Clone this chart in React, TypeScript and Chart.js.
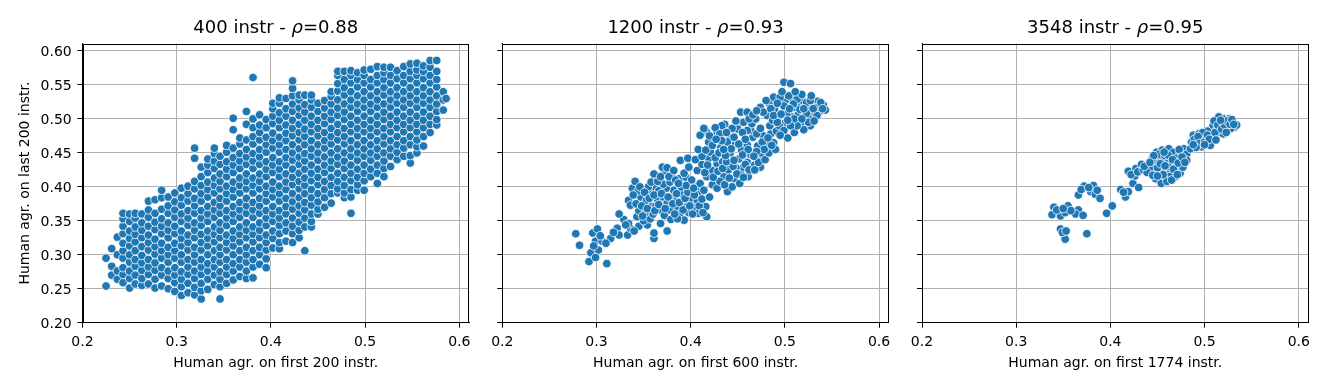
import React, { useEffect, useRef } from "react";
import { Chart, registerables } from "chart.js";
Chart.register(...registerables);

// ---------- data ----------
const panelNames = ["400 instr", "1200 instr", "3548 instr"];
const rhoValues = ["0.88", "0.93", "0.95"];
const xAxisLabels = [
  "Human agr. on first 200 instr.",
  "Human agr. on first 600 instr.",
  "Human agr. on first 1774 instr.",
];
const yAxisLabel = "Human agr. on last 200 instr.";
const xTickValues = [0.2, 0.3, 0.4, 0.5, 0.6];
const xTickLabels = ["0.2", "0.3", "0.4", "0.5", "0.6"];
const yTickValues = [0.2, 0.25, 0.3, 0.35, 0.4, 0.45, 0.5, 0.55, 0.6];
const yTickLabels = ["0.20", "0.25", "0.30", "0.35", "0.40", "0.45", "0.50", "0.55", "0.60"];

// panel 1: columns [x, y1, y2, ...] (dense cloud read column by column)
const p1Columns: number[][] = [
  [0.225, 0.254, 0.295],
  [0.231, 0.270, 0.283, 0.309],
  [0.237, 0.264, 0.276, 0.300, 0.326],
  [0.243, 0.259, 0.271, 0.281, 0.295, 0.306, 0.317, 0.331, 0.342, 0.353, 0.361],
  [0.250, 0.251, 0.265, 0.276, 0.289, 0.300, 0.313, 0.324, 0.335, 0.349, 0.360],
  [0.256, 0.257, 0.270, 0.283, 0.293, 0.306, 0.319, 0.330, 0.341, 0.354, 0.361],
  [0.263, 0.255, 0.265, 0.277, 0.288, 0.299, 0.312, 0.325, 0.336, 0.347, 0.360],
  [0.270, 0.257, 0.271, 0.282, 0.293, 0.307, 0.318, 0.329, 0.342, 0.355, 0.366, 0.379],
  [0.277, 0.251, 0.264, 0.277, 0.288, 0.301, 0.312, 0.323, 0.337, 0.348, 0.361, 0.381],
  [0.284, 0.254, 0.270, 0.281, 0.295, 0.306, 0.317, 0.331, 0.342, 0.353, 0.367, 0.384, 0.395],
  [0.291, 0.250, 0.265, 0.276, 0.289, 0.300, 0.311, 0.325, 0.336, 0.347, 0.361, 0.372, 0.385],
  [0.298, 0.246, 0.259, 0.270, 0.281, 0.295, 0.306, 0.317, 0.331, 0.342, 0.355, 0.366, 0.378, 0.391],
  [0.305, 0.240, 0.253, 0.264, 0.275, 0.289, 0.300, 0.313, 0.324, 0.335, 0.349, 0.360, 0.373, 0.384, 0.398],
  [0.312, 0.244, 0.258, 0.271, 0.282, 0.293, 0.307, 0.318, 0.329, 0.343, 0.354, 0.365, 0.379, 0.390, 0.401],
  [0.319, 0.241, 0.252, 0.265, 0.276, 0.289, 0.300, 0.311, 0.325, 0.336, 0.347, 0.361, 0.372, 0.383, 0.397, 0.408, 0.442, 0.457],
  [0.326, 0.235, 0.247, 0.258, 0.271, 0.282, 0.293, 0.307, 0.318, 0.330, 0.343, 0.354, 0.365, 0.379, 0.390, 0.402, 0.415, 0.429],
  [0.333, 0.249, 0.264, 0.276, 0.287, 0.300, 0.313, 0.324, 0.335, 0.349, 0.360, 0.371, 0.385, 0.396, 0.407, 0.421, 0.432, 0.441],
  [0.340, 0.256, 0.270, 0.282, 0.293, 0.306, 0.319, 0.330, 0.341, 0.355, 0.366, 0.377, 0.391, 0.402, 0.413, 0.427, 0.438, 0.449, 0.457],
  [0.346, 0.235, 0.253, 0.264, 0.275, 0.289, 0.300, 0.311, 0.325, 0.336, 0.347, 0.361, 0.372, 0.383, 0.397, 0.408, 0.419, 0.433, 0.445],
  [0.353, 0.258, 0.271, 0.282, 0.293, 0.307, 0.318, 0.329, 0.343, 0.354, 0.365, 0.379, 0.390, 0.401, 0.415, 0.426, 0.437, 0.451, 0.461],
  [0.360, 0.263, 0.276, 0.287, 0.300, 0.313, 0.324, 0.335, 0.349, 0.360, 0.371, 0.385, 0.396, 0.407, 0.421, 0.432, 0.443, 0.457, 0.484, 0.501],
  [0.367, 0.268, 0.282, 0.293, 0.306, 0.319, 0.330, 0.341, 0.355, 0.366, 0.377, 0.391, 0.402, 0.413, 0.427, 0.438, 0.449, 0.463, 0.472],
  [0.374, 0.265, 0.276, 0.289, 0.300, 0.311, 0.325, 0.336, 0.347, 0.361, 0.372, 0.383, 0.397, 0.408, 0.419, 0.433, 0.444, 0.455, 0.469, 0.492, 0.511],
  [0.381, 0.266, 0.282, 0.293, 0.306, 0.319, 0.330, 0.341, 0.355, 0.366, 0.377, 0.391, 0.402, 0.413, 0.427, 0.438, 0.449, 0.463, 0.474, 0.487, 0.500, 0.561],
  [0.388, 0.286, 0.300, 0.311, 0.325, 0.336, 0.347, 0.361, 0.372, 0.383, 0.397, 0.408, 0.419, 0.433, 0.444, 0.455, 0.469, 0.480, 0.491, 0.506],
  [0.395, 0.281, 0.294, 0.307, 0.318, 0.329, 0.343, 0.354, 0.365, 0.379, 0.390, 0.401, 0.415, 0.426, 0.437, 0.451, 0.462, 0.473, 0.487, 0.499],
  [0.402, 0.310, 0.324, 0.335, 0.349, 0.360, 0.371, 0.385, 0.396, 0.407, 0.421, 0.432, 0.443, 0.457, 0.468, 0.479, 0.493, 0.504, 0.515, 0.523],
  [0.409, 0.309, 0.318, 0.331, 0.343, 0.354, 0.365, 0.379, 0.390, 0.401, 0.415, 0.426, 0.437, 0.451, 0.462, 0.473, 0.487, 0.498, 0.509, 0.523, 0.531],
  [0.416, 0.320, 0.335, 0.347, 0.360, 0.371, 0.383, 0.396, 0.407, 0.419, 0.432, 0.443, 0.455, 0.468, 0.479, 0.491, 0.504, 0.515, 0.530],
  [0.423, 0.318, 0.331, 0.342, 0.354, 0.367, 0.378, 0.390, 0.403, 0.414, 0.426, 0.439, 0.450, 0.462, 0.475, 0.486, 0.498, 0.511, 0.522, 0.534, 0.545, 0.556],
  [0.430, 0.325, 0.336, 0.348, 0.361, 0.372, 0.384, 0.397, 0.408, 0.420, 0.433, 0.444, 0.456, 0.469, 0.480, 0.492, 0.505, 0.516, 0.528, 0.535],
  [0.436, 0.306, 0.341, 0.354, 0.366, 0.377, 0.390, 0.402, 0.413, 0.426, 0.438, 0.449, 0.462, 0.474, 0.485, 0.498, 0.510, 0.521, 0.535],
  [0.443, 0.341, 0.349, 0.360, 0.373, 0.384, 0.396, 0.409, 0.420, 0.432, 0.445, 0.456, 0.468, 0.481, 0.492, 0.504, 0.517, 0.528, 0.535],
  [0.450, 0.360, 0.367, 0.378, 0.390, 0.403, 0.414, 0.426, 0.439, 0.450, 0.462, 0.475, 0.486, 0.498, 0.511, 0.523],
  [0.457, 0.370, 0.384, 0.396, 0.408, 0.421, 0.432, 0.444, 0.457, 0.468, 0.480, 0.493, 0.504, 0.516, 0.527],
  [0.464, 0.376, 0.390, 0.402, 0.414, 0.427, 0.438, 0.450, 0.463, 0.474, 0.486, 0.499, 0.510, 0.522, 0.533, 0.540],
  [0.471, 0.391, 0.397, 0.408, 0.420, 0.433, 0.444, 0.456, 0.469, 0.480, 0.492, 0.505, 0.516, 0.528, 0.541, 0.552, 0.564, 0.570],
  [0.478, 0.384, 0.391, 0.402, 0.414, 0.427, 0.438, 0.450, 0.463, 0.474, 0.486, 0.499, 0.510, 0.522, 0.535, 0.546, 0.558, 0.570],
  [0.485, 0.361, 0.385, 0.396, 0.409, 0.420, 0.432, 0.445, 0.456, 0.468, 0.481, 0.492, 0.504, 0.517, 0.528, 0.540, 0.553, 0.564, 0.571],
  [0.492, 0.395, 0.403, 0.414, 0.426, 0.439, 0.450, 0.462, 0.475, 0.486, 0.498, 0.511, 0.522, 0.534, 0.547, 0.558, 0.568],
  [0.499, 0.395, 0.409, 0.420, 0.432, 0.445, 0.456, 0.468, 0.481, 0.492, 0.504, 0.517, 0.528, 0.540, 0.553, 0.564, 0.572],
  [0.506, 0.415, 0.426, 0.439, 0.450, 0.462, 0.475, 0.486, 0.498, 0.511, 0.522, 0.534, 0.547, 0.558, 0.573],
  [0.513, 0.405, 0.420, 0.432, 0.445, 0.456, 0.468, 0.481, 0.492, 0.504, 0.517, 0.528, 0.540, 0.553, 0.564, 0.577],
  [0.520, 0.415, 0.427, 0.438, 0.450, 0.463, 0.474, 0.486, 0.499, 0.510, 0.522, 0.535, 0.546, 0.558, 0.568, 0.576],
  [0.527, 0.430, 0.445, 0.456, 0.468, 0.481, 0.492, 0.504, 0.517, 0.528, 0.540, 0.553, 0.564, 0.576],
  [0.534, 0.440, 0.451, 0.462, 0.474, 0.487, 0.498, 0.510, 0.523, 0.534, 0.546, 0.559, 0.571],
  [0.541, 0.445, 0.457, 0.468, 0.481, 0.492, 0.504, 0.517, 0.528, 0.540, 0.553, 0.564, 0.577],
  [0.548, 0.435, 0.446, 0.462, 0.474, 0.487, 0.498, 0.510, 0.523, 0.534, 0.546, 0.559, 0.570, 0.581],
  [0.555, 0.450, 0.459, 0.469, 0.481, 0.492, 0.504, 0.517, 0.528, 0.540, 0.553, 0.564, 0.572, 0.582],
  [0.562, 0.460, 0.474, 0.487, 0.498, 0.510, 0.523, 0.534, 0.546, 0.559, 0.570, 0.578],
  [0.569, 0.480, 0.492, 0.504, 0.517, 0.528, 0.540, 0.553, 0.564, 0.576, 0.586],
  [0.576, 0.491, 0.499, 0.511, 0.522, 0.534, 0.547, 0.558, 0.570, 0.586],
  [0.583, 0.513, 0.528, 0.540],
  [0.586, 0.530],
];

// panel 2: [x, y] points
const p2Points: number[][] = [
  [0.278, 0.331], [0.282, 0.314], [0.292, 0.290], [0.294, 0.303], [0.296, 0.332], [0.301, 0.338],
  [0.299, 0.320], [0.302, 0.307], [0.306, 0.320], [0.311, 0.287], [0.299, 0.296], [0.297, 0.313],
  [0.304, 0.328], [0.315, 0.324], [0.310, 0.317],
  [0.322, 0.339], [0.324, 0.329], [0.329, 0.352], [0.333, 0.329], [0.324, 0.360], [0.336, 0.339],
  [0.334, 0.346], [0.345, 0.342], [0.354, 0.344], [0.361, 0.324], [0.361, 0.332], [0.375, 0.335],
  [0.368, 0.346], [0.340, 0.335], [0.350, 0.350], [0.343, 0.356], [0.357, 0.353], [0.331, 0.344],
  [0.318, 0.333],
  [0.334, 0.380], [0.336, 0.373], [0.338, 0.398], [0.341, 0.408], [0.347, 0.385], [0.350, 0.373],
  [0.353, 0.380], [0.357, 0.390], [0.359, 0.371], [0.363, 0.398], [0.365, 0.381], [0.368, 0.366],
  [0.371, 0.385], [0.375, 0.376], [0.380, 0.385], [0.382, 0.395], [0.386, 0.368], [0.389, 0.361],
  [0.393, 0.351], [0.396, 0.371], [0.400, 0.383], [0.405, 0.371], [0.407, 0.380], [0.410, 0.390],
  [0.416, 0.371], [0.417, 0.356], [0.408, 0.361], [0.345, 0.365], [0.352, 0.362], [0.360, 0.360],
  [0.372, 0.358], [0.378, 0.366], [0.384, 0.378], [0.391, 0.390], [0.398, 0.362], [0.366, 0.394],
  [0.374, 0.398], [0.355, 0.400], [0.344, 0.394], [0.349, 0.357], [0.363, 0.372], [0.379, 0.352],
  [0.386, 0.353],
  [0.339, 0.388], [0.342, 0.375], [0.346, 0.400], [0.348, 0.372], [0.351, 0.392], [0.354, 0.368],
  [0.356, 0.383], [0.358, 0.407], [0.361, 0.388], [0.362, 0.365], [0.366, 0.374], [0.369, 0.390],
  [0.371, 0.404], [0.373, 0.368], [0.376, 0.385], [0.378, 0.407], [0.381, 0.375], [0.383, 0.360],
  [0.385, 0.390], [0.388, 0.377], [0.390, 0.400], [0.392, 0.366], [0.394, 0.383], [0.397, 0.392],
  [0.399, 0.372], [0.402, 0.360], [0.404, 0.388], [0.406, 0.400], [0.409, 0.372], [0.412, 0.382],
  [0.413, 0.362], [0.388, 0.412], [0.380, 0.418], [0.395, 0.414], [0.372, 0.420], [0.365, 0.408],
  [0.361, 0.419], [0.370, 0.429], [0.368, 0.415], [0.375, 0.428], [0.377, 0.415], [0.382, 0.424],
  [0.389, 0.439], [0.384, 0.410], [0.393, 0.420], [0.398, 0.429], [0.401, 0.410], [0.407, 0.424],
  [0.410, 0.405], [0.417, 0.415], [0.423, 0.403], [0.423, 0.424], [0.428, 0.434], [0.435, 0.415],
  [0.439, 0.393], [0.446, 0.412], [0.453, 0.420], [0.456, 0.429], [0.460, 0.436], [0.465, 0.424],
  [0.474, 0.439], [0.477, 0.442], [0.474, 0.429], [0.414, 0.395], [0.420, 0.385], [0.428, 0.398],
  [0.431, 0.408], [0.440, 0.425], [0.448, 0.428], [0.444, 0.400], [0.403, 0.398], [0.395, 0.402],
  [0.387, 0.405], [0.412, 0.433], [0.419, 0.442], [0.434, 0.437], [0.452, 0.405], [0.461, 0.415],
  [0.468, 0.432], [0.397, 0.442], [0.405, 0.440],
  [0.412, 0.445], [0.415, 0.421], [0.418, 0.432], [0.421, 0.451], [0.424, 0.414], [0.426, 0.443],
  [0.429, 0.423], [0.432, 0.458], [0.434, 0.427], [0.436, 0.403], [0.438, 0.437], [0.441, 0.413],
  [0.442, 0.450], [0.445, 0.430], [0.447, 0.462], [0.449, 0.419], [0.451, 0.441], [0.454, 0.454],
  [0.456, 0.414], [0.458, 0.433], [0.460, 0.462], [0.462, 0.425], [0.464, 0.447], [0.466, 0.473],
  [0.468, 0.425], [0.471, 0.460], [0.472, 0.436], [0.475, 0.450], [0.477, 0.475], [0.479, 0.440],
  [0.480, 0.462], [0.483, 0.450], [0.485, 0.478], [0.488, 0.465], [0.490, 0.455], [0.428, 0.480],
  [0.436, 0.492], [0.442, 0.473], [0.450, 0.485], [0.456, 0.495], [0.464, 0.483], [0.417, 0.480],
  [0.433, 0.490],
  [0.408, 0.455], [0.410, 0.476], [0.414, 0.486], [0.419, 0.466], [0.426, 0.487], [0.431, 0.478],
  [0.416, 0.454], [0.423, 0.461], [0.430, 0.450], [0.437, 0.446], [0.439, 0.466], [0.446, 0.473],
  [0.443, 0.456], [0.451, 0.463], [0.460, 0.483], [0.465, 0.493], [0.470, 0.478], [0.476, 0.466],
  [0.478, 0.455], [0.470, 0.452], [0.461, 0.455], [0.467, 0.445], [0.446, 0.439], [0.435, 0.455],
  [0.455, 0.447], [0.453, 0.510], [0.460, 0.510], [0.474, 0.517], [0.469, 0.500], [0.481, 0.505],
  [0.484, 0.490], [0.491, 0.482], [0.487, 0.498], [0.455, 0.480], [0.444, 0.486], [0.438, 0.480],
  [0.420, 0.475], [0.458, 0.470], [0.474, 0.486], [0.482, 0.472], [0.486, 0.461], [0.448, 0.497],
  [0.462, 0.500], [0.433, 0.468], [0.427, 0.470],
  [0.489, 0.515], [0.493, 0.503], [0.496, 0.526], [0.500, 0.494], [0.501, 0.528], [0.504, 0.512],
  [0.507, 0.503], [0.508, 0.530], [0.511, 0.517], [0.514, 0.506], [0.515, 0.524], [0.517, 0.492],
  [0.519, 0.527], [0.521, 0.507], [0.524, 0.516], [0.526, 0.502], [0.529, 0.522], [0.532, 0.508],
  [0.535, 0.526], [0.537, 0.511], [0.541, 0.520], [0.527, 0.490], [0.520, 0.484], [0.510, 0.480],
  [0.503, 0.472], [0.494, 0.490], [0.483, 0.523], [0.477, 0.510], [0.466, 0.506], [0.470, 0.512],
  [0.488, 0.532], [0.495, 0.532], [0.504, 0.534], [0.513, 0.529], [0.509, 0.522], [0.523, 0.524],
  [0.527, 0.527], [0.534, 0.517], [0.543, 0.513], [0.534, 0.505], [0.525, 0.495], [0.523, 0.508],
  [0.516, 0.514], [0.499, 0.519], [0.502, 0.507], [0.513, 0.490], [0.499, 0.483], [0.495, 0.476],
  [0.492, 0.495], [0.485, 0.515], [0.488, 0.505], [0.499, 0.554], [0.506, 0.552], [0.520, 0.515],
  [0.531, 0.497], [0.510, 0.500], [0.518, 0.500], [0.506, 0.490], [0.496, 0.507], [0.530, 0.515],
  [0.538, 0.524], [0.528, 0.534], [0.518, 0.536], [0.492, 0.523], [0.505, 0.515], [0.511, 0.540],
  [0.497, 0.540], [0.480, 0.527], [0.540, 0.515], [0.503, 0.498],
];

// panel 3: [x, y] points
const p3Points: number[][] = [
  [0.340, 0.370], [0.338, 0.359], [0.347, 0.357], [0.355, 0.372], [0.352, 0.362], [0.366, 0.366],
  [0.363, 0.360], [0.371, 0.358], [0.343, 0.366], [0.358, 0.365], [0.350, 0.368],
  [0.347, 0.338], [0.351, 0.329], [0.352, 0.323], [0.349, 0.333], [0.353, 0.335], [0.375, 0.331],
  [0.372, 0.401], [0.382, 0.402], [0.366, 0.388], [0.379, 0.393], [0.384, 0.389], [0.389, 0.383],
  [0.369, 0.396], [0.377, 0.399], [0.386, 0.395],
  [0.396, 0.361], [0.402, 0.372],
  [0.411, 0.396], [0.416, 0.385], [0.419, 0.393], [0.424, 0.405], [0.430, 0.399], [0.419, 0.423],
  [0.426, 0.416], [0.427, 0.427], [0.433, 0.433], [0.414, 0.392], [0.422, 0.418], [0.429, 0.422],
  [0.435, 0.425],
  [0.449, 0.451], [0.455, 0.454], [0.462, 0.456], [0.467, 0.451], [0.474, 0.449], [0.478, 0.456],
  [0.481, 0.448], [0.481, 0.439], [0.476, 0.438], [0.468, 0.434], [0.463, 0.438], [0.458, 0.439],
  [0.453, 0.441], [0.449, 0.434], [0.448, 0.424], [0.452, 0.420], [0.455, 0.428], [0.459, 0.424],
  [0.464, 0.422], [0.470, 0.428], [0.474, 0.420], [0.469, 0.415], [0.463, 0.415], [0.457, 0.412],
  [0.451, 0.410], [0.448, 0.412], [0.454, 0.405], [0.460, 0.408], [0.441, 0.424], [0.443, 0.429],
  [0.439, 0.421], [0.452, 0.448], [0.458, 0.446], [0.470, 0.442], [0.477, 0.429], [0.445, 0.417],
  [0.436, 0.430], [0.444, 0.440],
  [0.446, 0.446], [0.450, 0.428], [0.453, 0.434], [0.456, 0.418], [0.461, 0.430], [0.461, 0.447],
  [0.466, 0.440], [0.467, 0.426], [0.472, 0.435], [0.473, 0.455], [0.476, 0.444], [0.479, 0.436],
  [0.465, 0.410], [0.457, 0.451], [0.471, 0.418], [0.442, 0.436], [0.458, 0.431], [0.450, 0.416],
  [0.485, 0.456], [0.486, 0.466], [0.488, 0.476], [0.490, 0.464], [0.494, 0.478], [0.497, 0.468],
  [0.497, 0.459], [0.501, 0.473], [0.506, 0.476], [0.508, 0.468], [0.506, 0.461], [0.512, 0.474],
  [0.515, 0.480], [0.520, 0.478], [0.516, 0.488], [0.509, 0.490], [0.522, 0.484], [0.525, 0.493],
  [0.530, 0.495], [0.532, 0.488], [0.526, 0.500], [0.520, 0.500], [0.515, 0.503], [0.513, 0.484],
  [0.503, 0.482], [0.498, 0.480], [0.534, 0.491], [0.518, 0.495], [0.528, 0.486], [0.510, 0.497],
  [0.492, 0.470],
  [0.489, 0.470], [0.493, 0.474], [0.495, 0.464], [0.500, 0.466], [0.503, 0.476], [0.505, 0.470],
  [0.511, 0.480], [0.514, 0.491], [0.518, 0.485], [0.521, 0.491], [0.524, 0.497], [0.527, 0.492],
  [0.529, 0.499], [0.531, 0.492], [0.512, 0.469], [0.500, 0.462], [0.523, 0.480], [0.517, 0.498],
  [0.491, 0.458], [0.488, 0.462],
];

// ---------- layout (not data) ----------
const W = 1329;
const H = 388;
const FONT = "'DejaVu Sans', sans-serif";
const PLOT_LEFT = [82.5, 502.3, 922];
const PLOT_RIGHT = [469, 888.8, 1308.5];
const PLOT_TOP = 43.5;
const PLOT_BOTTOM = 322.7;
const X_AXIS_H = 50;
const X_MIN = 0.2, X_MAX = 0.6103, Y_MIN = 0.2, Y_MAX = 0.611;

const panelData = [
  p1Columns.flatMap(([x, ...ys]) => ys.map((y) => ({ x, y }))),
  p2Points.map(([x, y]) => ({ x, y })),
  p3Points.map(([x, y]) => ({ x, y })),
];

const framePlugin = {
  id: "frame",
  afterDraw(chart: any) {
    const { ctx, chartArea: a } = chart;
    ctx.save();
    ctx.strokeStyle = "#000";
    ctx.lineWidth = 1;
    const l = Math.round(a.left) + 0.5, r = Math.round(a.right) - 0.5;
    const t = Math.round(a.top) + 0.5, b = Math.round(a.bottom) - 0.5;
    ctx.strokeRect(l, t, r - l, b - t);
    ctx.restore();
  },
};

function makeTitlePlugin(i: number) {
  return {
    id: "panelTitle" + i,
    afterDraw(chart: any) {
      const { ctx, chartArea: a } = chart;
      const parts = [
        { t: panelNames[i] + " - ", f: `18px ${FONT}` },
        { t: "ρ", f: `italic 18px ${FONT}` },
        { t: "=" + rhoValues[i], f: `18px ${FONT}` },
      ];
      ctx.save();
      ctx.fillStyle = "#000";
      ctx.textBaseline = "alphabetic";
      ctx.textAlign = "left";
      let total = 0;
      const widths = parts.map((p) => {
        ctx.font = p.f;
        const w = ctx.measureText(p.t).width;
        total += w;
        return w;
      });
      let x = (a.left + a.right) / 2 - total / 2;
      parts.forEach((p, k) => {
        ctx.font = p.f;
        ctx.fillText(p.t, x, 33.3);
        x += widths[k];
      });
      ctx.restore();
    },
  };
}

function Panel({ i }: { i: number }) {
  const ref = useRef<HTMLCanvasElement>(null);
  useEffect(() => {
    const canvas = ref.current!;
    const yW = i === 0 ? PLOT_LEFT[0] : 20;
    const chart = new Chart(canvas, {
      type: "scatter",
      data: {
        datasets: [
          {
            data: panelData[i],
            backgroundColor: "#1f77b4",
            borderColor: "#ffffff",
            borderWidth: 0.8,
            pointRadius: 4.3,
            pointHoverRadius: 4.3,
          },
        ],
      },
      options: {
        animation: false,
        responsive: false,
        events: [],
        layout: {
          padding: {
            left: PLOT_LEFT[i] - yW,
            right: W - PLOT_RIGHT[i],
            top: PLOT_TOP,
            bottom: H - PLOT_BOTTOM - X_AXIS_H,
          },
        },
        plugins: { legend: { display: false }, tooltip: { enabled: false }, title: { display: false } },
        scales: {
          x: {
            type: "linear",
            min: X_MIN,
            max: X_MAX,
            z: 1,
            afterBuildTicks: (s: any) => {
              s.ticks = xTickValues.map((v) => ({ value: v }));
            },
            afterFit: (s: any) => {
              s.height = X_AXIS_H;
            },
            grid: { color: "#b0b0b0", lineWidth: 1, tickColor: "#000", tickLength: 5, tickWidth: 1 },
            border: { display: true, color: "#000", width: 1 },
            ticks: {
              callback: (_v: any, idx: number) => xTickLabels[idx],
              font: { family: FONT, size: 14 },
              color: "#000",
              padding: 6,
              maxRotation: 0,
              autoSkip: false,
            },
            title: {
              display: true,
              text: xAxisLabels[i],
              font: { family: FONT, size: 14 },
              color: "#000",
              padding: { top: 0, bottom: 1.2 },
            },
          },
          y: {
            type: "linear",
            min: Y_MIN,
            max: Y_MAX,
            z: 1,
            afterBuildTicks: (s: any) => {
              s.ticks = yTickValues.map((v) => ({ value: v }));
            },
            afterFit: (s: any) => {
              s.width = yW;
            },
            grid: { color: "#b0b0b0", lineWidth: 1, tickColor: "#000", tickLength: 5, tickWidth: 1 },
            border: { display: true, color: "#000", width: 1 },
            ticks: {
              callback: (_v: any, idx: number) => (i === 0 ? yTickLabels[idx] : ""),
              font: { family: FONT, size: 14 },
              color: "#000",
              padding: 5.8,
              labelOffset: 1.5,
              autoSkip: false,
            },
            title: {
              display: i === 0,
              text: yAxisLabel,
              font: { family: FONT, size: 14 },
              color: "#000",
              padding: { top: 16.6, bottom: 0 },
            },
          },
        },
      } as any,
      plugins: [framePlugin, makeTitlePlugin(i)],
    });
    return () => chart.destroy();
  }, [i]);
  return (
    <canvas
      ref={ref}
      width={W}
      height={H}
      style={{ position: "absolute", left: 0, top: 0, width: W, height: H }}
    />
  );
}

export default function App() {
  return (
    <div style={{ position: "absolute", left: 0, top: 0, width: W, height: H, background: "#fff" }}>
      <Panel i={0} />
      <Panel i={1} />
      <Panel i={2} />
    </div>
  );
}
